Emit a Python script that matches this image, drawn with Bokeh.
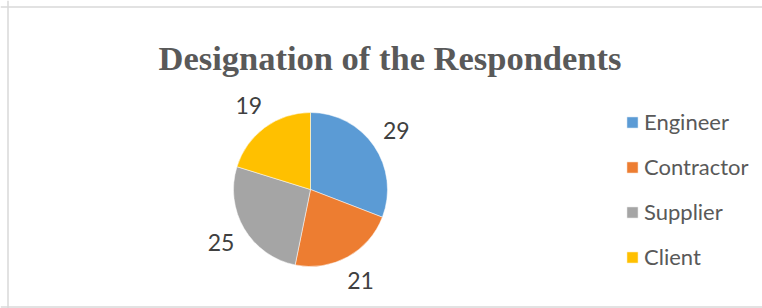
import math
from bokeh.plotting import figure
from bokeh.models import Range1d, ColumnDataSource, Legend, LegendItem, Label, Span
from bokeh.core.properties import value
from bokeh.embed import file_html
from bokeh.resources import INLINE

# Data
categories = ["Engineer", "Contractor", "Supplier", "Client"]
counts = [29, 21, 25, 19]
colors = ["#5B9BD5", "#ED7D31", "#A5A5A5", "#FFC000"]
title_text = "Designation of the Respondents"

W, H = 762, 308
p = figure(width=W, height=H, output_backend="svg", toolbar_location=None,
           x_range=Range1d(0, W), y_range=Range1d(0, H), min_border=0)
p.xaxis.visible = False
p.yaxis.visible = False
p.grid.visible = False
p.outline_line_color = None
p.background_fill_color = "white"
p.border_fill_color = "white"

# chart-area border (left, top, bottom; right edge lies outside the view)
for loc, dim in [(7.5, "height"), (301.5, "width"), (1.5, "width")]:
    p.add_layout(Span(location=loc, dimension=dim, line_color="#D9D9D9",
                      line_width=1.5))

cx, cy, r = 310, 119, 77
total = sum(counts)
starts, ends, lx, ly = [], [], [], []
cum = 0
for c in counts:
    a0 = math.pi / 2 - 2 * math.pi * cum / total
    cum += c
    a1 = math.pi / 2 - 2 * math.pi * cum / total
    starts.append(a0)
    ends.append(a1)
    mid = (a0 + a1) / 2
    lx.append(cx + 104 * math.cos(mid))
    ly.append(cy + 104 * math.sin(mid))

src = ColumnDataSource(dict(lx=lx, ly=ly, txt=[str(c) for c in counts]))

renderers = []
for i in range(len(counts)):
    rr = p.wedge(x=cx, y=cy, radius=r, start_angle=starts[i], end_angle=ends[i],
                 direction="clock", fill_color=colors[i], line_color="white",
                 line_width=0.5)
    renderers.append(rr)

p.text(x="lx", y="ly", text="txt", source=src, text_align="center",
       text_baseline="middle", text_font=value("Lato"), text_font_size="23px",
       text_color="#404040")

p.add_layout(Label(x=389.5, y=251, text=title_text, text_align="center",
                   text_baseline="alphabetic", text_font="Liberation Serif",
                   text_font_style="bold", text_font_size="34.5px",
                   text_color="#595959"))

legend = Legend(items=[LegendItem(label=categories[i], renderers=[renderers[i]])
                       for i in range(len(categories))],
                location=(625, 38), orientation="vertical",
                glyph_width=14, glyph_height=14, label_standoff=5,
                label_height=26, spacing=18, padding=0, margin=0,
                label_text_font="Lato", label_text_font_size="22px",
                label_text_color="#595959", border_line_color=None,
                background_fill_alpha=0)
p.add_layout(legend)

open("out.html", "w").write(file_html(p, INLINE))
